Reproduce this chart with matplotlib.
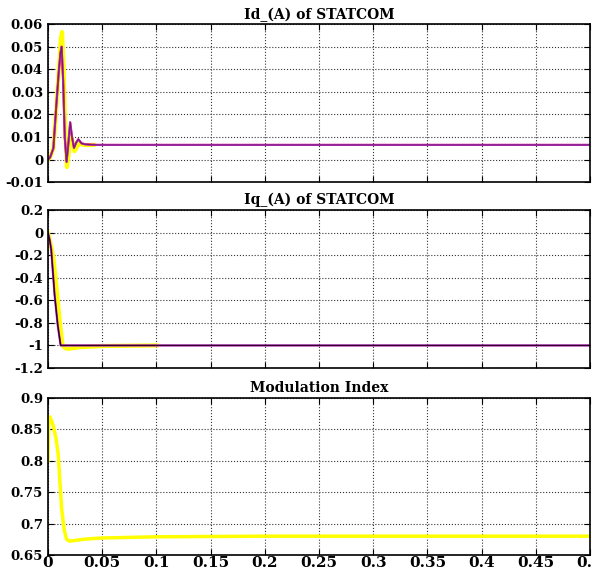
import numpy as np
import matplotlib
matplotlib.use('Agg')
import matplotlib.pyplot as plt

plt.rcParams['font.family'] = ['DejaVu Serif']
plt.rcParams['font.weight'] = 'bold'

# Id_(A) of STATCOM
t_id = [0, 0.002, 0.005, 0.0077, 0.010, 0.0115, 0.0126, 0.0140, 0.0155, 0.0172,
        0.0190, 0.0205, 0.0222, 0.024, 0.026, 0.028, 0.031, 0.034, 0.040, 0.045,
        0.05, 0.1, 0.5]
id_black = [0, 0.001, 0.005, 0.024, 0.039, 0.047, 0.050, 0.035, 0.010, -0.001,
            0.008, 0.0165, 0.010, 0.0052, 0.0075, 0.009, 0.0072, 0.0068, 0.0066,
            0.0065, 0.0065, 0.0065, 0.0065]
t_idy = [0, 0.002, 0.005, 0.0080, 0.0105, 0.0120, 0.0130, 0.0145, 0.0160, 0.0175,
         0.0195, 0.0210, 0.0228, 0.0245, 0.027, 0.029, 0.032, 0.036, 0.042]
id_yellow = [0, 0.001, 0.005, 0.025, 0.043, 0.054, 0.0565, 0.040, 0.012, -0.0033,
             0.004, 0.011, 0.008, 0.0037, 0.0058, 0.0072, 0.0066, 0.0064, 0.0065]

# Iq_(A) of STATCOM
t_iq = [0, 0.0015, 0.003, 0.0061, 0.009, 0.0117, 0.013, 0.05, 0.5]
iq_black = [0, -0.06, -0.15, -0.55, -0.82, -1.0, -1.0, -1.0, -1.0]
t_iqy = [0, 0.002, 0.005, 0.008, 0.011, 0.0135, 0.016, 0.019, 0.022, 0.03, 0.05,
         0.1]
iq_yellow = [0, -0.08, -0.22, -0.50, -0.80, -1.00, -1.025, -1.03, -1.025,
             -1.015, -1.005, -1.0]

# Modulation Index
t_m = [0, 0.0008, 0.0018, 0.0049, 0.0075, 0.0095, 0.0126, 0.015, 0.0172, 0.020,
       0.0326, 0.048, 0.1, 0.2, 0.5]
m_idx = [0.80, 0.865, 0.870, 0.856, 0.835, 0.81, 0.724, 0.69, 0.675, 0.672,
         0.675, 0.677, 0.679, 0.68, 0.68]

xticks = np.arange(0, 0.501, 0.05)
xlabels = ['0', '0.05', '0.1', '0.15', '0.2', '0.25', '0.3', '0.35', '0.4', '0.45', '0.5']

fig = plt.figure(figsize=(5.92, 5.71), dpi=100)
ax1 = fig.add_axes([0.081, 0.681, 0.9155, 0.2767])
ax2 = fig.add_axes([0.081, 0.3555, 0.9155, 0.2767])
ax3 = fig.add_axes([0.081, 0.028, 0.9155, 0.275])

ax1.plot(t_idy, id_yellow, color='#ffff00', lw=3)
ax1.plot(t_id, id_black, color='red', lw=1.4)
ax1.plot(t_id, id_black, color='#cc33cc', lw=1.6)
ax1.plot(t_id, id_black, color='black', lw=0.8, alpha=0.45)
ax1.set_ylim(-0.01, 0.06)
ax1.set_yticks([-0.01, 0, 0.01, 0.02, 0.03, 0.04, 0.05, 0.06])
ax1.set_yticklabels(['-0.01', '0', '0.01', '0.02', '0.03', '0.04', '0.05', '0.06'])
ax1.set_title('Id_(A) of STATCOM', fontsize=10, fontweight='bold', pad=4)

ax2.plot(t_iqy, iq_yellow, color='#ffff00', lw=3)
ax2.plot(t_iq, iq_black, color='#cc33cc', lw=1.6)
ax2.plot(t_iq, iq_black, color='#300030', lw=1.0)
ax2.set_ylim(-1.2, 0.2)
ax2.set_yticks([-1.2, -1, -0.8, -0.6, -0.4, -0.2, 0, 0.2])
ax2.set_yticklabels(['-1.2', '-1', '-0.8', '-0.6', '-0.4', '-0.2', '0', '0.2'])
ax2.set_title('Iq_(A) of STATCOM', fontsize=10, fontweight='bold', pad=4)

ax3.plot(t_m, m_idx, color='#ffff00', lw=2.5)
ax3.set_ylim(0.65, 0.9)
ax3.set_yticks([0.65, 0.7, 0.75, 0.8, 0.85, 0.9])
ax3.set_yticklabels(['0.65', '0.7', '0.75', '0.8', '0.85', '0.9'])
ax3.set_title('Modulation Index', fontsize=10, fontweight='bold', pad=4)

for ax in (ax1, ax2, ax3):
    ax.set_xlim(0, 0.5)
    ax.set_xticks(xticks)
    ax.grid(True, linestyle=':', color='#333333', lw=0.8)
    ax.tick_params(direction='in', top=True, right=True, labelsize=9.5, length=4)
    for s in ax.spines.values():
        s.set_linewidth(1.2)
    for lab in ax.get_yticklabels():
        lab.set_fontweight('bold')

ax1.set_xticklabels([])
ax2.set_xticklabels([])
ax3.set_xticklabels(xlabels, fontweight='bold', fontsize=11)
ax3.tick_params(axis='x', pad=1)

plt.savefig('out.png', dpi=100)
